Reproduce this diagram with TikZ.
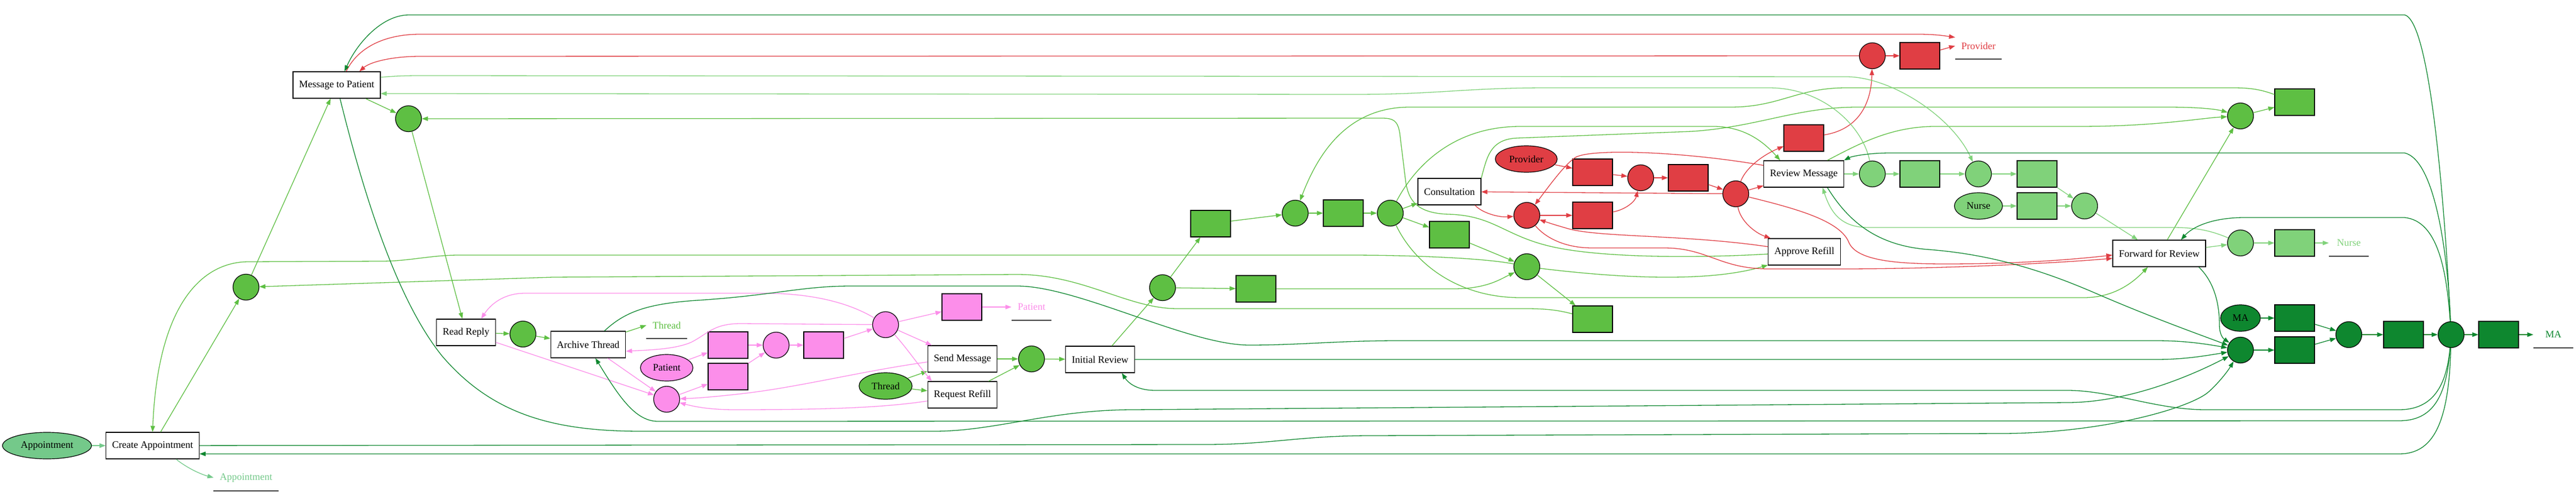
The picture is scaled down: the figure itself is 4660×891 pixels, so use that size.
\documentclass[tikz,border=0pt]{standalone}
\usepackage{fontspec}
\setmainfont{Liberation Serif}
\usetikzlibrary{arrows.meta,shapes.geometric}
\definecolor{thr}{RGB}{94,191,67}
\definecolor{nrs}{RGB}{128,210,122}
\definecolor{mag}{RGB}{14,135,47}
\definecolor{prv}{RGB}{224,62,68}
\definecolor{pat}{RGB}{252,142,234}
\definecolor{apt}{RGB}{116,201,138}
\begin{document}
\begin{tikzpicture}[x=1pt,y=-1pt,
    every node/.style={font=\fontsize{18}{21}\selectfont},
    trn/.style={draw=black,fill=white,line width=1.3pt,minimum height=48pt,inner xsep=11pt,inner ysep=0pt},
    plc/.style={circle,draw=black,line width=1.2pt,minimum size=47pt,inner sep=0pt},
    silent/.style={draw=black,line width=1.2pt,minimum width=72pt,minimum height=48pt,inner sep=0pt},
    src/.style={ellipse,draw=black,line width=1.2pt,minimum height=48pt,inner sep=0pt},
    sink/.style={minimum width=72pt,minimum height=48pt,inner xsep=11pt,inner ysep=0pt},
    uline/.style={line width=2pt,black!75},
    arcline/.style={line width=1.3pt,-{Triangle[length=11pt,width=8pt]}},
    eT/.style={arcline,thr}, eN/.style={arcline,nrs}, eM/.style={arcline,mag},
    eP/.style={arcline,prv}, eK/.style={arcline,pat}, eA/.style={arcline,apt}]
  \useasboundingbox (0,0) rectangle (4660,891);
  \fill[white] (0,0) rectangle (4660,891);

  \node[trn] (tCA) at (276,807) {Create Appointment};
  \node[trn] (tMP) at (609,154) {Message to Patient};
  \node[trn] (tRR) at (843,602) {Read Reply};
  \node[trn] (tAT) at (1064,624) {Archive Thread};
  \node[trn] (tSM) at (1741,650) {Send Message};
  \node[trn] (tRF) at (1741,715) {Request Refill};
  \node[trn] (tIR) at (1990,651) {Initial Review};
  \node[trn] (tCO) at (2622,347) {Consultation};
  \node[trn] (tRM) at (3263,315) {Review Message};
  \node[trn] (tAR) at (3264,456) {Approve Refill};
  \node[trn] (tFR) at (3906,459) {Forward for Review};

  \node[src,fill=apt,minimum width=161pt] (sAppt) at (85,807) {Appointment};
  \node[src,fill=pat,minimum width=95pt] (sPat) at (1206,666) {Patient};
  \node[src,fill=thr,minimum width=96pt] (sThr) at (1602,699) {Thread};
  \node[src,fill=prv,minimum width=112pt] (sPrv) at (2761,288) {Provider};
  \node[src,fill=nrs,minimum width=87pt] (sNrs) at (3579,373) {Nurse};
  \node[src,fill=mag,minimum width=72pt] (sMA) at (4053,576) {MA};

  \node[sink,text=apt] (lAppt) at (445,865) {Appointment};
  \node[sink,text=thr] (lThr) at (1206,589) {Thread};
  \node[sink,text=pat] (lPat) at (1866,556) {Patient};
  \node[sink,text=prv] (lPrv) at (3579,83) {Provider};
  \node[sink,text=nrs] (lNrs) at (4249,440) {Nurse};
  \node[sink,text=mag] (lMA) at (4619,606) {MA};
  \foreach \n in {lAppt,lThr,lPat,lPrv,lNrs,lMA}
    \draw[uline] (\n.south west) -- (\n.south east);

  \foreach \n/\x/\y in {pCA/445/520,pMP/739/215,pRR/946/605,pSM/1866/650,g1/2103/521,
      g2/2343/386,g3/2515/386,g4/2762/483,g5/4053/210}
    \node[plc,fill=thr] (\n) at (\x,\y) {};
  \foreach \n/\x/\y in {r1/2190/405,r2/2272/523,r3/2430/386,r4/2622/425,r5/2881/578,r6/4151/185}
    \node[silent,fill=thr] (\n) at (\x,\y) {};
  \foreach \n/\x/\y in {pp0/1206/723,pp1/1404/625,pp2/1602/588}
    \node[plc,fill=pat] (\n) at (\x,\y) {};
  \foreach \n/\x/\y in {ka/1317/625,kb/1317/682,kc/1490/625,kd/1740/556}
    \node[silent,fill=pat] (\n) at (\x,\y) {};
  \foreach \n/\x/\y in {q0/2762/390,q1/2968/322,q2/3140/351,q3/3387/101}
    \node[plc,fill=prv] (\n) at (\x,\y) {};
  \foreach \n/\x/\y in {e1/2881/312,e2/3054/322,e3/2881/390,e4/3263/250,e5/3473/101}
    \node[silent,fill=prv] (\n) at (\x,\y) {};
  \foreach \n/\x/\y in {n1/3387/315,n2/3579/315,n3/3771/373,n4/4053/440}
    \node[plc,fill=nrs] (\n) at (\x,\y) {};
  \foreach \n/\x/\y in {f1/3473/315,f2/3685/315,f3/3685/373,f4/4151/440}
    \node[silent,fill=nrs] (\n) at (\x,\y) {};
  \foreach \n/\x/\y in {m0/4053/634,m1/4249/606,m2/4434/606}
    \node[plc,fill=mag] (\n) at (\x,\y) {};
  \foreach \n/\x/\y in {d1/4151/576,d2/4151/634,d3/4348/606,d4/4520/606}
    \node[silent,fill=mag] (\n) at (\x,\y) {};

  % straight arcs
  \foreach \a/\b in {sThr/tSM,sThr/tRF,tSM/pSM,tRF/pSM,pSM/tIR,tIR/g1,g1/r1,g1/r2,r1/g2,
      g2/r3,r3/g3,g3/tCO,g3/r4,r4/g4,g4/r5,tCA/pCA,pCA/tMP,tMP/pMP,pMP/tRR,tRR/pRR,pRR/tAT,
      tFR/g5,g5/r6}
    \draw[eT] (\a) -- (\b);
  \draw[eT] (tAT) -- (lThr.west);
  \foreach \a/\b in {sPat/ka,pp0/kb,ka/pp1,kb/pp1,pp1/kc,kc/pp2,pp2/kd,kd/lPat,pp2/tSM,tRR/pp0,tAT/pp0}
    \draw[eK] (\a) -- (\b);
  \foreach \a/\b in {sPrv/e1,e1/q1,q1/e2,e2/q2,q2/tRM,q2/tCO,q0/e3,q3/e5}
    \draw[eP] (\a) -- (\b);
  \draw[eP] (e5) -- (lPrv.west);
  \foreach \a/\b in {sNrs/f3,f3/n3,tRM/n1,n1/f1,f1/n2,n2/f2,f2/n3,n3/tFR,tFR/n4,n4/f4,f4/lNrs}
    \draw[eN] (\a) -- (\b);
  \foreach \a/\b in {sMA/d1,d1/m1,m0/d2,d2/m1,m1/d3,d3/m2,m2/d4,d4/lMA}
    \draw[eM] (\a) -- (\b);
  \draw[eA] (sAppt) -- (tCA);
  \draw[eA] (tCA.-30) .. controls (335,845) and (360,858) .. (lAppt.west);

  % Thread
  \draw[eT] (r2) -- (2630,523) .. controls (2690,523) and (2715,505) .. (g4);
  \draw[eT] (g4) .. controls (2900,500) and (3080,515) .. (tAR.200);
  \draw[eT] (g4) .. controls (2690,468) and (2560,462) .. (2440,462) -- (830,462)
    .. controls (780,462) and (740,473) .. (690,473) -- (450,474)
    .. controls (360,474) and (285,560) .. (tCA.north);
  \draw[eT] (r5) .. controls (2820,562) and (2800,559) .. (2760,559) -- (2130,559)
    .. controls (2040,559) and (1960,497) .. (1840,497) -- (1000,502) -- (pCA);
  \draw[eT] (tAR) .. controls (3100,466) and (2900,470) .. (2800,445)
    .. controls (2720,425) and (2700,390) .. (2620,388)
    .. controls (2560,386) and (2548,360) .. (2543,330) -- (2532,240)
    .. controls (2528,218) and (2520,214) .. (2500,214) -- (pMP);
  \draw[eT] (g3) .. controls (2560,300) and (2630,229) .. (2750,229) -- (3100,229)
    .. controls (3160,229) and (3195,262) .. (tRM.150);
  \draw[eT] (tCO.north east) .. controls (2690,285) and (2695,252) .. (2745,250) -- (3060,238)
    .. controls (3180,230) and (3250,194) .. (3360,194) -- (3920,194)
    .. controls (3980,194) and (4010,198) .. (g5);
  \draw[eT] (tRM.30) .. controls (3360,262) and (3420,229) .. (3500,229) -- (3760,229)
    .. controls (3900,229) and (3980,214) .. (g5);
  \draw[eT] (r6) .. controls (4090,162) and (4070,159) .. (4040,159) -- (3340,159)
    .. controls (3250,159) and (3220,194) .. (3130,194) -- (2550,194)
    .. controls (2430,194) and (2380,290) .. (g2);
  \draw[eT] (g3) .. controls (2560,480) and (2640,539) .. (2750,539) -- (3770,539)
    .. controls (3830,539) and (3865,505) .. (tFR.230);

  % Provider
  \draw[eP] (tCO.-28) .. controls (2680,385) and (2710,394) .. (q0);
  \draw[eP] (e3) .. controls (2940,380) and (2958,365) .. (q1);
  \draw[eP] (tRM.168) .. controls (3050,275) and (2880,268) .. (2850,285)
    .. controls (2830,298) and (2800,340) .. (q0);
  \draw[eP] (q2) .. controls (3160,300) and (3195,278) .. (e4);
  \draw[eP] (e4) .. controls (3360,235) and (3385,190) .. (q3);
  \draw[eP] (q3) -- (760,102) .. controls (710,102) and (670,112) .. (tMP.31);
  \draw[eP] (tMP.55) .. controls (645,90) and (690,62) .. (760,62) -- (3470,62)
    .. controls (3505,62) and (3525,66) .. (lPrv.160);
  \draw[eP] (q2) .. controls (3148,400) and (3175,422) .. (tAR.158);
  \draw[eP] (tAR.172) .. controls (3050,425) and (2900,430) .. (2840,415)
    .. controls (2815,408) and (2800,403) .. (q0);
  \draw[eP] (q0) .. controls (2795,430) and (2830,449) .. (2880,449) -- (3010,449)
    .. controls (3090,449) and (3110,487) .. (3200,487) -- (3330,487)
    .. controls (3500,487) and (3700,478) .. (tFR.186);
  \draw[eP] (q2) .. controls (3250,378) and (3330,400) .. (3345,440)
    .. controls (3360,472) and (3430,478) .. (3520,478)
    .. controls (3650,478) and (3750,470) .. (tFR.182);

  % Nurse
  \draw[eN] (tMP.10) .. controls (710,138) and (730,137) .. (760,137) -- (3340,139)
    .. controls (3420,139) and (3530,210) .. (n2);
  \draw[eN] (n1) .. controls (3370,230) and (3300,159) .. (3200,159) -- (2800,159)
    .. controls (2650,159) and (2600,171) .. (2450,171) -- (tMP.-11);
  \draw[eN] (n4) .. controls (4000,418) and (3975,412) .. (3930,412) -- (3380,412)
    .. controls (3330,412) and (3312,385) .. (tRM.-36);

  % Patient
  \draw[eK] (pp2) .. controls (1640,630) and (1662,662) .. (tRF.156);
  \draw[eK] (pp2) .. controls (1530,545) and (1460,531) .. (1380,531) -- (950,531)
    .. controls (910,531) and (887,552) .. (tRR.42);
  \draw[eK] (pp2) -- (1340,586) .. controls (1290,586) and (1280,605) .. (1250,620)
    .. controls (1220,633) and (1170,634) .. (tAT.-10);
  \draw[eK] (tSM.185) .. controls (1560,672) and (1450,700) .. (1350,712)
    .. controls (1300,718) and (1262,721) .. (pp0);
  \draw[eK] (tRF.190) .. controls (1600,738) and (1500,742) .. (1330,742)
    .. controls (1290,742) and (1262,738) .. (pp0);

  % MA
  \draw[eM] (tCA) -- (2180,805) .. controls (2300,805) and (2350,789) .. (2480,789) -- (3620,785)
    .. controls (3800,785) and (3960,740) .. (3995,710)
    .. controls (4015,692) and (4030,672) .. (m0);
  \draw[eM] (tIR) -- (3900,651) .. controls (3950,651) and (3985,645) .. (m0);
  \draw[eM] (tAT.40) .. controls (1130,565) and (1170,550) .. (1260,544)
    .. controls (1400,535) and (1450,518) .. (1540,518) -- (1840,518)
    .. controls (1950,518) and (2150,625) .. (2260,625)
    .. controls (2350,625) and (2420,617) .. (2530,617) -- (3900,617)
    .. controls (3950,617) and (3985,622) .. (m0);
  \draw[eM] (tMP.-76) .. controls (655,340) and (715,540) .. (800,645)
    .. controls (890,750) and (1000,781) .. (1160,781) -- (1690,781)
    .. controls (1800,781) and (1900,742) .. (2050,742) -- (3740,729)
    .. controls (3850,729) and (3965,680) .. (m0);
  \draw[eM] (tFR.-19) .. controls (4010,515) and (4015,560) .. (4015,590)
    .. controls (4015,603) and (4020,612) .. (m0);
  \draw[eM] (tRM.-30) .. controls (3340,395) and (3390,445) .. (3490,452)
    .. controls (3620,462) and (3720,500) .. (3800,535)
    .. controls (3900,578) and (3985,608) .. (m0);
  \draw[eM] (m2) .. controls (4425,420) and (4400,40) .. (4350,27) -- (740,27)
    .. controls (690,27) and (645,80) .. (tMP.60);
  \draw[eM] (m2) .. controls (4428,460) and (4405,290) .. (4350,277) -- (3420,277)
    .. controls (3380,277) and (3350,283) .. (tRM.north east);
  \draw[eM] (m2) .. controls (4426,490) and (4410,400) .. (4350,394) -- (4060,394)
    .. controls (4000,394) and (3965,412) .. (tFR.32);
  \draw[eM] (m2) .. controls (4426,700) and (4400,742) .. (4340,742) -- (3990,742)
    .. controls (3900,742) and (3820,707) .. (3740,707) -- (2090,707)
    .. controls (2055,707) and (2040,692) .. (tIR.-32);
  \draw[eM] (m2) .. controls (4426,720) and (4400,762) .. (4340,762) -- (1190,763)
    .. controls (1148,763) and (1118,715) .. (tAT.-62);
  \draw[eM] (m2) .. controls (4430,770) and (4400,822) .. (4340,822) -- (tCA.-10);
\end{tikzpicture}
\end{document}
